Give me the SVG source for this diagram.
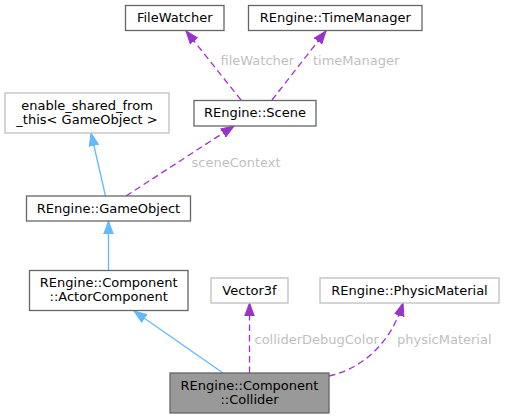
<svg xmlns="http://www.w3.org/2000/svg" width="505" height="419" viewBox="0 0 505 419">
<style>
  text { font-family: "DejaVu Sans", "Liberation Sans", sans-serif; font-size: 13px; }
  .node rect { fill: #ffffff; stroke: #666666; stroke-width: 1.3; }
  .node.ext rect { stroke: #bfbfbf; }
  .node.main rect { fill: #999999; stroke: #666666; }
  .node text { fill: #000000; text-anchor: middle; }
  .lbl { fill: #bfbfbf; }
  .inh { fill: none; stroke: #63b8ff; stroke-width: 1.3; marker-end: url(#blueArrow); }
  .use { fill: none; stroke: #9a32cd; stroke-width: 1.3; stroke-dasharray: 6.5,4; marker-end: url(#purpleArrow); }
</style>
<defs>
  <marker id="blueArrow" markerUnits="userSpaceOnUse" markerWidth="14" markerHeight="12" viewBox="0 -6 14 12" refX="13" refY="0" orient="auto">
    <polygon points="0,-4.8 13,0 0,4.8" fill="#63b8ff" stroke="#63b8ff" stroke-width="1"/>
  </marker>
  <marker id="purpleArrow" markerUnits="userSpaceOnUse" markerWidth="14" markerHeight="12" viewBox="0 -6 14 12" refX="13" refY="0" orient="auto">
    <polygon points="0,-4.8 13,0 0,4.8" fill="#9a32cd" stroke="#9a32cd" stroke-width="1"/>
  </marker>
</defs>

<g id="connectors">
  <path class="use" d="M241,100 L186,31"/>
  <path class="use" d="M272,100 L326,31"/>
  <path class="use" d="M126,196 L234,126"/>
  <path class="inh" d="M105.5,196 L91,133"/>
  <path class="inh" d="M108.5,270 L108.5,221"/>
  <path class="inh" d="M223,373 L134,311"/>
  <path class="use" d="M249.5,373 L249.5,303"/>
  <path class="use" d="M329,376 C365,368 392,340 403,303"/>
  <text class="lbl" x="220.5" y="64.5">fileWatcher</text>
  <text class="lbl" x="313" y="64.5">timeManager</text>
  <text class="lbl" x="191.5" y="167">sceneContext</text>
  <text class="lbl" x="254.5" y="344">colliderDebugColor</text>
  <text class="lbl" x="397" y="344">physicMaterial</text>
</g>

<g id="FileWatcher" class="node">
  <rect x="125.5" y="5.5" width="98.5" height="25"/>
  <text x="174.75" y="22">FileWatcher</text>
</g>
<g id="TimeManager" class="node">
  <rect x="248.5" y="5.5" width="173.5" height="25"/>
  <text x="335.25" y="22">REngine::TimeManager</text>
</g>
<g id="Scene" class="node">
  <rect x="194" y="100.5" width="122" height="25.5"/>
  <text x="255" y="117.3">REngine::Scene</text>
</g>
<g id="enable_shared" class="node ext">
  <rect x="5" y="93" width="164" height="40"/>
  <text x="87" y="109.5">enable_shared_from</text>
  <text x="87" y="123.5">_this&lt; GameObject &gt;</text>
</g>
<g id="GameObject" class="node">
  <rect x="26.5" y="196" width="164" height="25"/>
  <text x="108.5" y="212.5">REngine::GameObject</text>
</g>
<g id="ActorComponent" class="node">
  <rect x="29.5" y="270.5" width="158.5" height="40"/>
  <text x="108.75" y="287">REngine::Component</text>
  <text x="108.75" y="301">::ActorComponent</text>
</g>
<g id="Vector3f" class="node ext">
  <rect x="211" y="278" width="77" height="25"/>
  <text x="249.5" y="294.5">Vector3f</text>
</g>
<g id="PhysicMaterial" class="node ext">
  <rect x="320" y="278" width="179" height="25"/>
  <text x="409.5" y="294.5">REngine::PhysicMaterial</text>
</g>
<g id="Collider" class="node main">
  <rect x="170" y="373" width="159" height="40"/>
  <text x="249.5" y="389.5">REngine::Component</text>
  <text x="249.5" y="403.5">::Collider</text>
</g>
</svg>
